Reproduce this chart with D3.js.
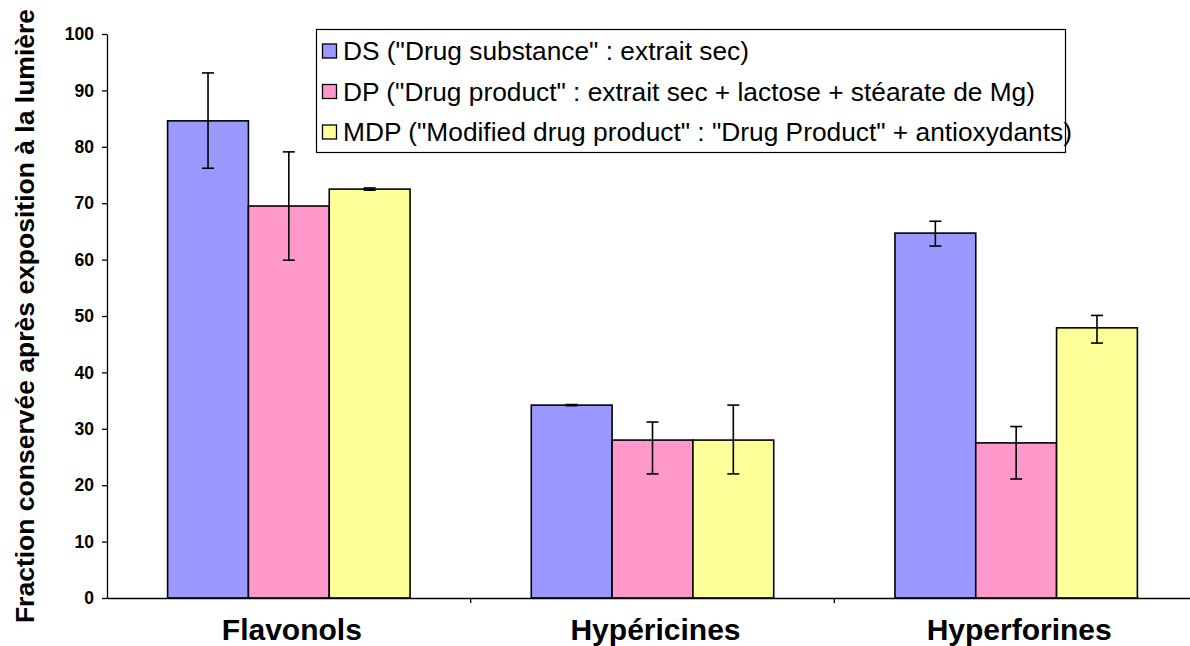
<!DOCTYPE html>
<html><head><meta charset="utf-8">
<script src="https://cdn.jsdelivr.net/npm/d3@7"></script>
<style>body{margin:0;background:#fff}svg{display:block}</style>
</head><body>
<svg id="c" width="1190" height="646"></svg>
<script>
const categories = ["Flavonols", "Hypéricines", "Hyperforines"];
const seriesNames = [
  "DS (\"Drug substance\" : extrait sec)",
  "DP (\"Drug product\" : extrait sec + lactose + stéarate de Mg)",
  "MDP (\"Modified drug product\" : \"Drug Product\" + antioxydants)"
];
const dsValues  = [84.6, 34.2, 64.7];
const dpValues  = [69.5, 28.0, 27.5];
const mdpValues = [72.5, 28.0, 47.9];
const dsErrPlus  = [8.5, 0.1, 2.1];
const dsErrMinus = [8.4, 0.1, 2.3];
const dpErrPlus  = [9.6, 3.2, 2.9];
const dpErrMinus = [9.6, 6.0, 6.4];
const mdpErrPlus  = [0.2, 6.2, 2.2];
const mdpErrMinus = [0.2, 6.0, 2.7];
const yTicks = [0,10,20,30,40,50,60,70,80,90,100];
const colors = ["#9999ff", "#ff99cc", "#ffff99"];

const series = [
  {values: dsValues, plus: dsErrPlus, minus: dsErrMinus},
  {values: dpValues, plus: dpErrPlus, minus: dpErrMinus},
  {values: mdpValues, plus: mdpErrPlus, minus: mdpErrMinus}
];

const FONT = "Liberation Sans, Arial, sans-serif";
const svg = d3.select("#c");
const mLeft = 107, mRight = 1198, mTop = 34, mBottom = 598;
const x = d3.scaleBand().domain(categories).range([mLeft, mRight]).paddingInner(0).paddingOuter(0);
const y = d3.scaleLinear().domain([0, 100]).range([mBottom, mTop]);
const groupW = x.bandwidth() * 3 / 4.5;
const xs = d3.scaleBand().domain([0,1,2]).range([0, groupW]);

series.forEach((s, si) => {
  const g = svg.append("g");
  categories.forEach((c, ci) => {
    const bx = x(c) + (x.bandwidth() - groupW) / 2 + xs(si);
    g.append("rect")
      .attr("x", bx).attr("y", y(s.values[ci]))
      .attr("width", xs.bandwidth()).attr("height", y(0) - y(s.values[ci]))
      .attr("fill", colors[si]).attr("stroke", "#000").attr("stroke-width", 1.6);
  });
});
series.forEach((s, si) => {
  categories.forEach((c, ci) => {
    const cx = x(c) + (x.bandwidth() - groupW) / 2 + xs(si) + xs.bandwidth() / 2;
    const y1 = y(s.values[ci] + s.plus[ci]), y2 = y(s.values[ci] - s.minus[ci]);
    const g = svg.append("g").attr("stroke", "#000").attr("stroke-width", 1.6);
    g.append("line").attr("x1", cx).attr("x2", cx).attr("y1", y1).attr("y2", y2);
    g.append("line").attr("x1", cx - 6).attr("x2", cx + 6).attr("y1", y1).attr("y2", y1);
    g.append("line").attr("x1", cx - 6).attr("x2", cx + 6).attr("y1", y2).attr("y2", y2);
  });
});

const yAxis = d3.axisLeft(y).tickValues(yTicks).tickSize(5).tickSizeOuter(0);
const ya = svg.append("g").attr("transform", `translate(${mLeft},0)`).call(yAxis);
ya.selectAll("text").attr("font-family", FONT)
  .attr("font-weight", "bold").attr("font-size", 17.5).attr("fill", "#000").attr("x", -13);
ya.selectAll("line,path").attr("stroke", "#000").attr("stroke-width", 1.3);

const xa = svg.append("g").attr("transform", `translate(0,${mBottom})`)
  .call(d3.axisBottom(x).tickSize(0).tickSizeOuter(0).tickFormat(""));
xa.selectAll("path").attr("stroke", "#000").attr("stroke-width", 1.3);
svg.append("g").selectAll("line").data(categories.slice(1)).join("line")
  .attr("x1", d => x(d)).attr("x2", d => x(d))
  .attr("y1", mBottom).attr("y2", mBottom + 5)
  .attr("stroke", "#000").attr("stroke-width", 1.3);
svg.append("g").selectAll("text").data(categories).join("text")
  .attr("x", d => x(d) + x.bandwidth() / 2 + 3).attr("y", 639.5)
  .attr("text-anchor", "middle")
  .attr("font-family", FONT)
  .attr("font-weight", "bold").attr("font-size", 30).text(d => d);

svg.append("text")
  .attr("transform", "translate(34,316) rotate(-90)")
  .attr("text-anchor", "middle")
  .attr("font-family", FONT)
  .attr("font-weight", "bold").attr("font-size", 26.5)
  .text("Fraction conservée après exposition à la lumière");

const lg = svg.append("g");
lg.append("rect").attr("x", 316.5).attr("y", 29.5).attr("width", 749).attr("height", 123)
  .attr("fill", "#fff").attr("stroke", "#000").attr("stroke-width", 1.2);
seriesNames.forEach((n, i) => {
  const cy = 51 + i * 40.5;
  lg.append("rect").attr("x", 322.5).attr("y", cy - 7).attr("width", 14).attr("height", 14)
    .attr("fill", colors[i]).attr("stroke", "#000").attr("stroke-width", 1.3);
  lg.append("text").attr("x", 343).attr("y", cy + 9)
    .attr("font-family", FONT)
    .attr("font-size", 26.3).text(n);
});
</script>
</body></html>
